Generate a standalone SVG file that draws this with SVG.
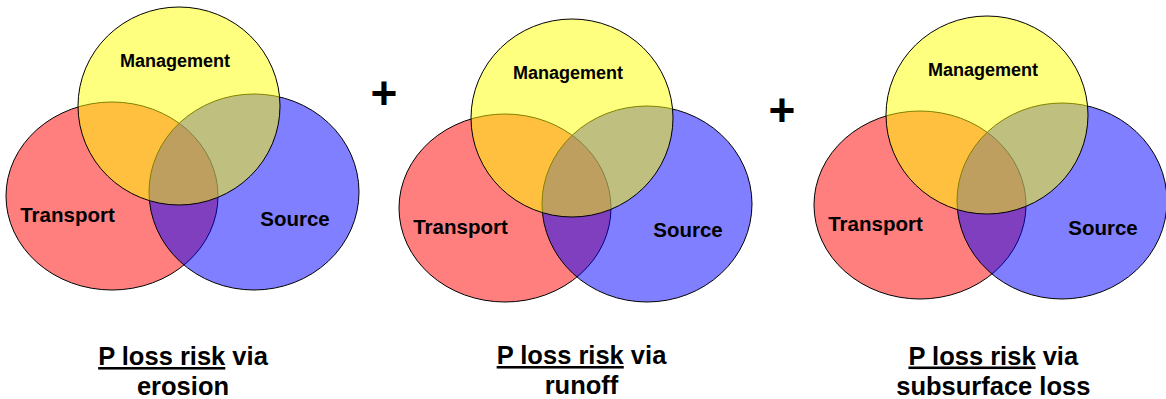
<svg xmlns="http://www.w3.org/2000/svg" width="1166" height="399" viewBox="0 0 1166 399">
  <style>
    .transport { fill: #FF0000; fill-opacity: 0.5; stroke: #000; stroke-width: 1; }
    .source { fill: #0000FF; fill-opacity: 0.5; stroke: #000; stroke-width: 1; }
    .management { fill: #FFFF00; fill-opacity: 0.5; stroke: #000; stroke-width: 1; }
    .lbl { font-family: "Liberation Sans", Arial, sans-serif; font-weight: bold; fill: #000; text-anchor: middle; }
    .small { font-size: 18px; }
    .mid { font-size: 20.5px; }
    .cap { font-size: 25.5px; }
    .plus { font-family: "Liberation Sans", Arial, sans-serif; font-weight: bold; font-size: 46px; fill: #000; text-anchor: middle; }
    .ul { text-decoration: underline; }
  </style>

  <g id="venn-erosion">
    <g id="erosion-transport">
      <ellipse class="transport" cx="112" cy="196" rx="106" ry="94"/>
      <text class="lbl mid" x="67.5" y="222">Transport</text>
    </g>
    <g id="erosion-source">
      <ellipse class="source" cx="254" cy="192" rx="105" ry="98"/>
      <text class="lbl mid" x="295" y="226">Source</text>
    </g>
    <g id="erosion-management">
      <ellipse class="management" cx="179" cy="106" rx="101" ry="99"/>
      <text class="lbl small" x="175" y="66.5">Management</text>
    </g>
  </g>

  <g id="venn-runoff" transform="translate(393,12)">
    <g id="runoff-transport">
      <ellipse class="transport" cx="112" cy="196" rx="106" ry="94"/>
      <text class="lbl mid" x="67.5" y="222">Transport</text>
    </g>
    <g id="runoff-source">
      <ellipse class="source" cx="254" cy="192" rx="105" ry="98"/>
      <text class="lbl mid" x="295" y="225">Source</text>
    </g>
    <g id="runoff-management">
      <ellipse class="management" cx="179" cy="106" rx="101" ry="99"/>
      <text class="lbl small" x="175" y="66.5">Management</text>
    </g>
  </g>

  <g id="venn-subsurface" transform="translate(808,9)">
    <g id="subsurface-transport">
      <ellipse class="transport" cx="112" cy="196" rx="106" ry="94"/>
      <text class="lbl mid" x="67.5" y="222">Transport</text>
    </g>
    <g id="subsurface-source">
      <ellipse class="source" cx="254" cy="192" rx="105" ry="98"/>
      <text class="lbl mid" x="295" y="226">Source</text>
    </g>
    <g id="subsurface-management">
      <ellipse class="management" cx="179" cy="106" rx="101" ry="99"/>
      <text class="lbl small" x="175" y="66.5">Management</text>
    </g>
  </g>

  <g id="operators">
    <text class="plus" x="384" y="108.5">+</text>
    <text class="plus" x="782" y="126">+</text>
  </g>

  <g id="captions">
    <text class="lbl cap" x="183" y="365"><tspan class="ul">P loss risk</tspan> via</text>
    <text class="lbl cap" x="183" y="395">erosion</text>
    <text class="lbl cap" x="581.5" y="364"><tspan class="ul">P loss risk</tspan> via</text>
    <text class="lbl cap" x="581.5" y="394">runoff</text>
    <text class="lbl cap" x="993.3" y="364.5"><tspan class="ul">P loss risk</tspan> via</text>
    <text class="lbl cap" x="993.3" y="394.5">subsurface loss</text>
  </g>
</svg>
